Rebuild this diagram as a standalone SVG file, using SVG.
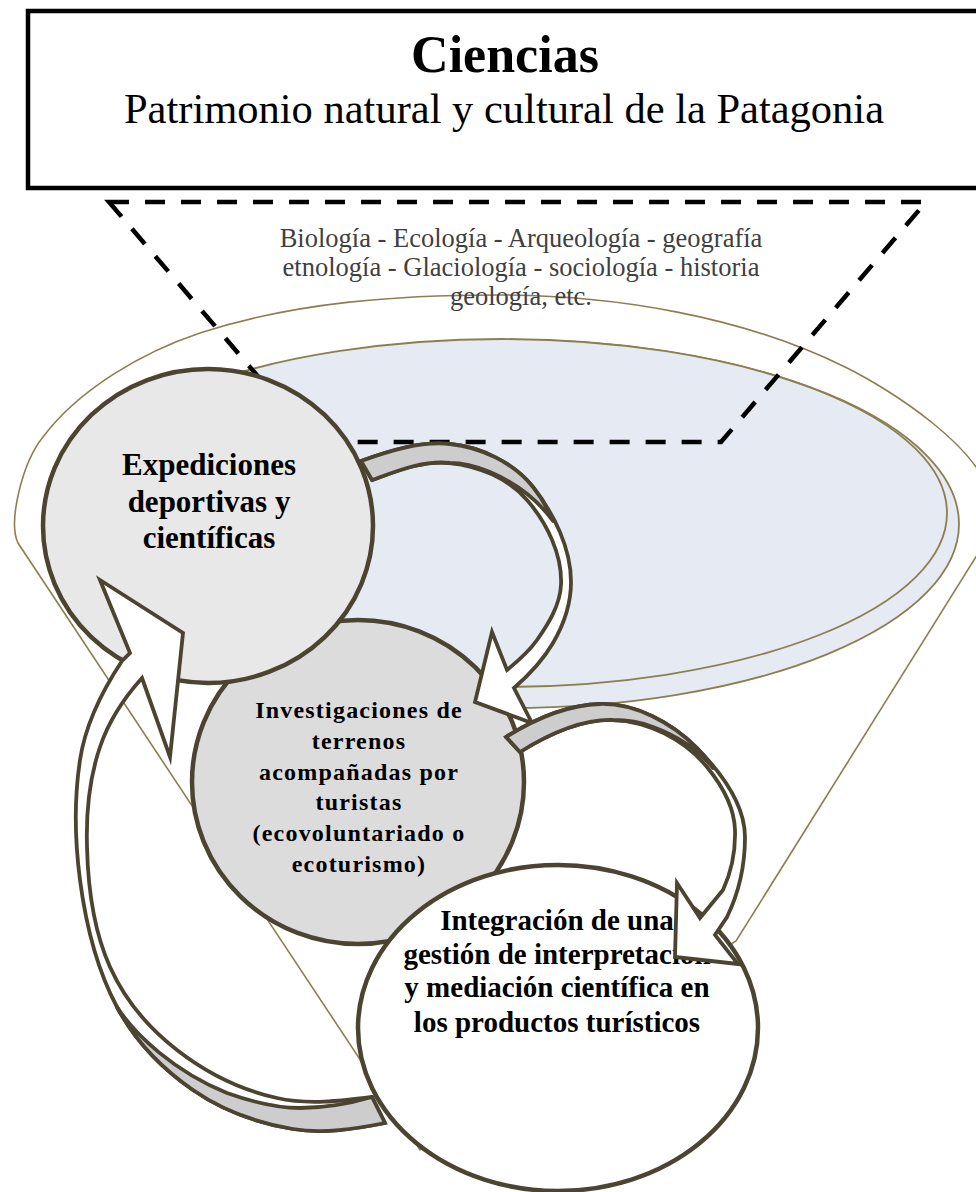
<svg xmlns="http://www.w3.org/2000/svg" width="976" height="1192" viewBox="0 0 976 1192">
<style>
.thin{fill:none;stroke:#8B7F52;stroke-width:1.6}
.blue{fill:#E5EAF3;stroke:#8B7F52;stroke-width:1.8}
.dash{fill:none;stroke:#000;stroke-width:4.5;stroke-dasharray:20 16}
.node{stroke:#4A4430;stroke-width:4.5}
.arw{fill:#fff;stroke:#4A4430;stroke-width:3.8;stroke-linejoin:miter;stroke-miterlimit:10}
.gry{fill:#CDCDCD;stroke:#4A4430;stroke-width:3.8;stroke-linejoin:round}
.lbl{font-family:"Liberation Serif","Times New Roman",serif;font-weight:bold;fill:#000;text-anchor:middle}
.sci{font-family:"Liberation Serif","Times New Roman",serif;font-size:26.5px;fill:#404040;text-anchor:middle}
</style>
<rect width="976" height="1192" fill="#fff"/>
<g id="titulo">
<rect x="28" y="11" width="970" height="177" fill="#fff" stroke="#000" stroke-width="4.5"/>
<text x="505" y="72" class="lbl" style="font-size:52px">Ciencias</text>
<text x="504" y="123" style="font-family:'Liberation Serif','Times New Roman',serif;font-size:42.5px;text-anchor:middle;fill:#000">Patrimonio natural y cultural de la Patagonia</text>
</g>
<g id="cono">
<path class="thin" d="M18,543 C8,522 22,463 43,437 C79,389 143,352 200,333 C295,302 398,295 498,295 C613,295 742,316 845,367 C890,389 985,450 990,500 L999,520 L736,941 L420,1150 Z"/>
</g>
<g id="disco">
<ellipse class="blue" cx="510" cy="524" rx="449" ry="184"/>
<ellipse class="blue" cx="502" cy="513" rx="445" ry="174"/>
</g>
<g id="ciencias-lista">
<text class="sci" x="521" y="247">Biología - Ecología - Arqueología - geografía</text>
<text class="sci" x="521" y="276">etnología - Glaciología - sociología - historia</text>
<text class="sci" x="521" y="305">geología, etc.</text>
</g>
<g id="trapecio">
<path class="dash" d="M109,202 H926 L721,442 H314 Z"/>
</g>
<g id="investigaciones">
<ellipse class="node" cx="358" cy="782" rx="166" ry="162" fill="#DCDCDC"/>
<g class="lbl" style="font-size:24px;letter-spacing:1.2px">
<text x="359" y="718">Investigaciones de</text>
<text x="359" y="749">terrenos</text>
<text x="359" y="780">acompañadas por</text>
<text x="359" y="810">turistas</text>
<text x="359" y="841">(ecovoluntariado o</text>
<text x="359" y="872">ecoturismo)</text>
</g>
</g>
<g id="expediciones">
<ellipse class="node" cx="208" cy="526" rx="165" ry="157" fill="#E8E8E8"/>
<g class="lbl" style="font-size:31px">
<text x="209" y="475">Expediciones</text>
<text x="209" y="512">deportivas y</text>
<text x="209" y="548">científicas</text>
</g>
</g>
<g id="integracion">
<ellipse class="node" cx="558" cy="1028" rx="200" ry="163" fill="#fff"/>
<g class="lbl" style="font-size:29px">
<text x="557" y="930">Integración de una</text>
<text x="557" y="964">gestión de interpretación</text>
<text x="557" y="997">y mediación científica en</text>
<text x="557" y="1032">los productos turísticos</text>
</g>
</g>
<g id="conectores">
<g id="flecha-a">
<path class="arw" d="M361,461 C389,451 420,441 450,444 C481,447 514,463 533,487 C554,514 571,548 571,582 C571,603 563.5,625 553,643 C543,660 529,675 514,688 L532,723 L475,702 L492,632 L507,670 C518,661 529,651.5 537,640 C548.6,623.6 560,605 561,585 C562.5,555 547,523 527,500 C508.5,478 478,466 450,463 C423,460 397,471 372,480 Z"/>
<path class="gry" d="M361,461 C389,451 420,441 450,444 C481,447 514,463 533,487 Q545,502 553,521 C540,503 520,485 490,472 C475,466 462,463 450,463 C423,460 397,471 372,480 Z"/>
</g>
<g id="flecha-c">
<path class="arw" d="M385,1123 C355,1129 323,1134 293,1129 C257.5,1123 222.5,1110.5 193,1090 C162,1068.6 134.6,1040 117,1007 C96.3,968.3 85.7,923.6 80,880 C74.8,840.4 74,799.6 80,760 C85.4,724.4 102,691 122,661 L130,653 L100,580 L183,633 L170,757 L142,678 C124,698 108.6,721.3 100,747 C89,779 86,813 87,847 C88,887.7 93.3,930 110,967 C124.6,999.4 149,1028.3 177,1050 C206,1072.6 241,1090 277,1098 C307.7,1105 340.6,1101 372,1097 Z"/>
<path class="gry" d="M385,1123 C355,1129 323,1134 293,1129 C257.5,1123 222.5,1110.5 193,1090 C162,1068.6 134.6,1040 117,1007 C135,1035 175,1072 227,1093 C255,1103 280,1108 300,1108 C330,1108 355,1102 372,1097 Z"/>
</g>
<g id="flecha-b">
<path class="arw" d="M506,737 C534,719.5 567,705 600,704 C635.5,703 672,723 697,748 C720.6,772 745,803.3 745,837 C745,864.3 739,892.4 727,917 L715,935 L738,964 L675,957 L677,883 L700,918 L723,890 C731.6,871.4 735.6,850.4 735,830 C734.3,807 721.7,785 707,767 C684.6,739.7 648,721 613,720 C580.3,719 547.8,734.7 520,752 Z"/>
<path class="gry" d="M506,737 C534,719.5 567,705 600,704 C635.5,703 672,723 697,748 Q706,757 713,768 C700,752 680,737 653,727 C640,722 625,720 613,720 C580.3,719 547.8,734.7 520,752 Z"/>
</g>
</g>
</svg>
